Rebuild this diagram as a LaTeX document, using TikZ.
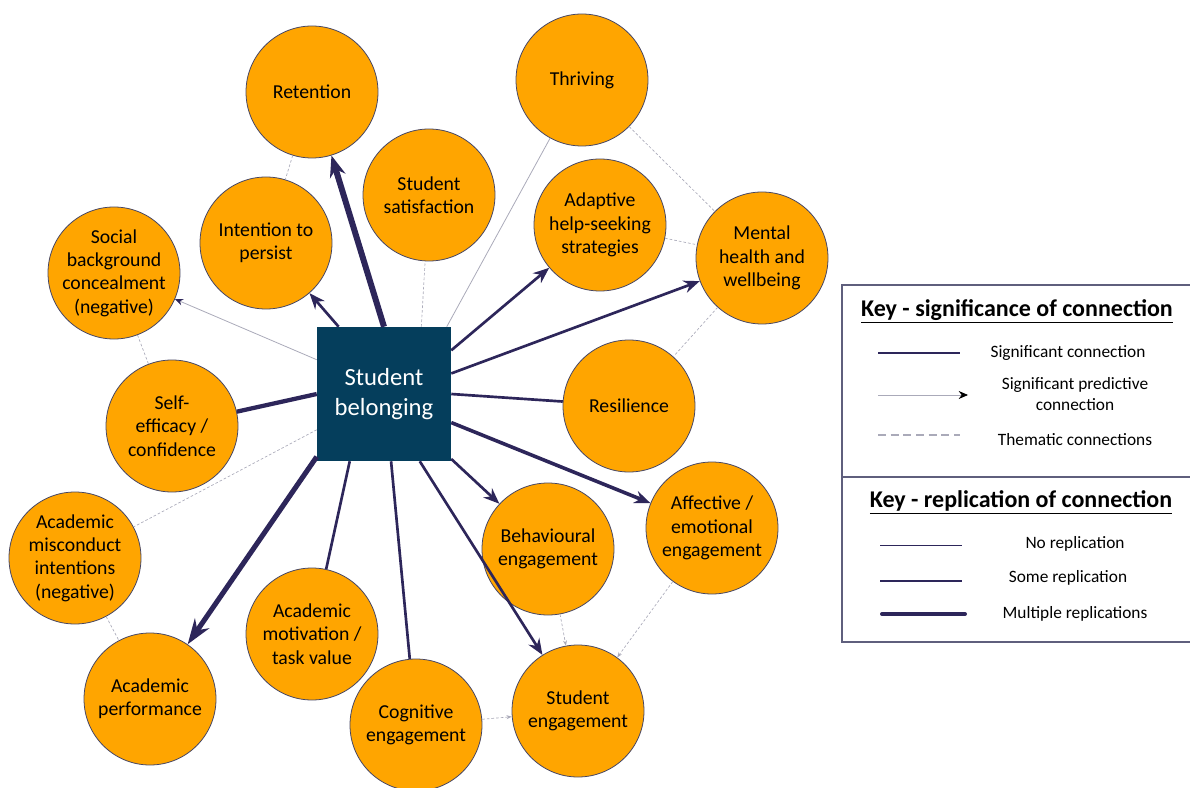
\documentclass[tikz,border=0pt]{standalone}
\usepackage{fontspec}
\setmainfont{Carlito}
\usetikzlibrary{arrows.meta}

\definecolor{belongorange}{RGB}{255,165,0}
\definecolor{belongblue}{RGB}{5,62,92}
\definecolor{linknavy}{RGB}{45,38,90}
\definecolor{rimgrey}{RGB}{70,70,100}
\definecolor{themegrey}{RGB}{170,170,185}
\definecolor{keyrule}{RGB}{95,95,125}

\begin{document}
\begin{tikzpicture}[x=0.75pt,y=-0.75pt,
    topic/.style={circle,draw=rimgrey,line width=0.6pt,fill=belongorange,minimum size=99pt,
      inner sep=0pt,align=center,font=\fontsize{14.8}{17.5}\selectfont},
    link/.style={draw=linknavy,line width=2pt},
    heavy/.style={draw=linknavy,line width=3.2pt},
    faint/.style={draw=themegrey,line width=0.6pt},
    theme/.style={draw=themegrey,line width=0.5pt,dash pattern=on 2pt off 1.5pt},
    bigtip/.style={-{Stealth[length=16pt,width=12pt]}},
    smalltip/.style={-{Stealth[length=4pt,width=3pt]}},
    >={Stealth[length=12pt,width=9.5pt]},
    keytitle/.style={font=\fontsize{18}{21}\selectfont\bfseries},
    keytext/.style={align=center,font=\fontsize{13}{15.5}\selectfont}]

    \useasboundingbox (0,0) rectangle (1190,788);

    % centre
    \node[fill=belongblue,minimum size=100.5pt,inner sep=0pt,align=center,text=white,
      font=\fontsize{18.5}{22.5}\selectfont] (belong) at (384,394) {Student\\belonging};

    % outcomes round the centre
    \node[topic] (ret) at (312,92) {Retention};
    \node[topic] (thrive) at (582,80) {Thriving};
    \node[topic] (satis) at (429,195) {Student\\satisfaction};
    \node[topic] (help) at (600,225) {Adaptive\\help-seeking\\strategies};
    \node[topic] (mental) at (762,258) {Mental\\health and\\wellbeing};
    \node[topic] (persist) at (266,243) {Intention to\\persist};
    \node[topic,inner sep=-4pt] (conceal) at (114,273) {Social\\background\\concealment\\(negative)};
    \node[topic] (selfeff) at (172,426) {Self-\\efficacy /\\confidence};
    \node[topic] (resil) at (629,406) {Resilience};
    \node[topic] (affect) at (712,528) {Affective /\\emotional\\engagement};
    \node[topic] (behav) at (548,549) {Behavioural\\engagement};
    \node[topic] (studeng) at (578,711) {Student\\engagement};
    \node[topic] (cognit) at (416,725) {Cognitive\\engagement};
    \node[topic] (motiv) at (312,634) {Academic\\motivation /\\task value};
    \node[topic] (perform) at (150,699) {Academic\\performance};
    \node[topic,inner sep=-3pt] (miscond) at (75,558) {Academic\\misconduct\\intentions\\(negative)};

    % connections from belonging
    \draw[heavy,line width=4.5pt,bigtip] (belong.north) -- (ret);
    \draw[link,->] (belong.124) -- (persist);
    \draw[faint,-{Stealth[length=6pt,width=5pt,color=linknavy]}] (belong.153) -- (conceal);
    \draw[theme] (belong.61) -- (satis);
    \draw[faint] (belong.47) -- (thrive);
    \draw[link,->] (belong.33) -- (help);
    \draw[link,->] (belong.17) -- (mental);
    \draw[link] (belong.east) -- (resil);
    \draw[heavy,line width=2.7pt,->] (belong.-23) -- (affect);
    \draw[link,->] (belong.-44) -- (behav);
    \draw[link,->] (belong.-62) -- (studeng);
    \draw[link] (belong.-84) -- (cognit);
    \draw[link] (belong.-117) -- (motiv);
    \draw[heavy,line width=3.8pt,-{Stealth[length=19pt,width=13pt]}] (belong.-137) -- (perform);
    \draw[heavy] (belong.west) -- (selfeff);
    \draw[theme] (belong.-152) -- (miscond);

    % thematic links between outcomes
    \draw[theme] (ret) -- (persist);
    \draw[theme] (conceal) -- (selfeff);
    \draw[theme] (miscond) -- (perform);
    \draw[theme] (thrive) -- (mental);
    \draw[theme] (help) -- (mental);
    \draw[theme] (mental) -- (resil);
    \draw[theme,smalltip] (behav) -- (studeng);
    \draw[theme,smalltip] (affect) -- (studeng);
    \draw[theme,smalltip] (cognit) -- (studeng);

    % key
    \draw[keyrule,line width=1.1pt] (842,285) rectangle (1196,642);
    \draw[keyrule,line width=1.1pt] (842,477) -- (1196,477);
    \node[keytitle] (keysig) at (1017,311) {\underline{Key - significance of connection}};
    \node[keytitle] (keyrep) at (1021,502) {\underline{Key - replication of connection}};

    \coordinate (sigA) at (878,353);  \coordinate (sigB) at (960,353);
    \coordinate (predA) at (878,395); \coordinate (predB) at (968,395);
    \coordinate (themA) at (878,435); \coordinate (themB) at (960,435);
    \coordinate (noA) at (880,545);   \coordinate (noB) at (962,545);
    \coordinate (someA) at (880,581); \coordinate (someB) at (962,581);
    \coordinate (multA) at (882,614); \coordinate (multB) at (965,614);

    \draw[draw=linknavy,line width=1.5pt] (sigA) -- (sigB);
    \draw[faint,-{Stealth[length=7pt,width=6pt,color=black]}] (predA) -- (predB);
    \draw[draw=themegrey,line width=0.9pt,dash pattern=on 6pt off 3.5pt] (themA) -- (themB);
    \draw[draw=linknavy,line width=0.7pt] (noA) -- (noB);
    \draw[draw=linknavy,line width=2pt] (someA) -- (someB);
    \draw[draw=linknavy,line width=3pt,line cap=round] (multA) -- (multB);

    \node[keytext] (sigtext) at (1068,353) {Significant connection};
    \node[keytext] (predtext) at (1075,394) {Significant predictive\\connection};
    \node[keytext] (themtext) at (1075,440) {Thematic connections};
    \node[keytext] (notext) at (1075,544) {No replication};
    \node[keytext] (sometext) at (1068,578) {Some replication};
    \node[keytext] (multtext) at (1075,614) {Multiple replications};
\end{tikzpicture}
\end{document}
